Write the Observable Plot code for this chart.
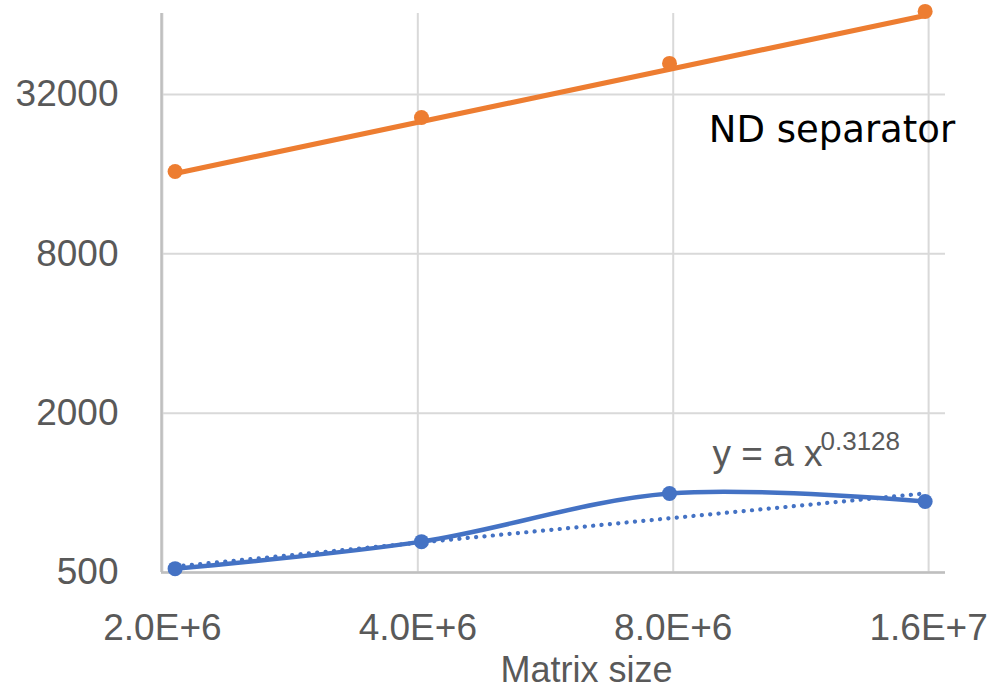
<!DOCTYPE html>
<html><head><meta charset="utf-8">
<script src="https://cdn.jsdelivr.net/npm/d3@7"></script>
<script src="https://cdn.jsdelivr.net/npm/@observablehq/plot@0.6"></script>
<style>body{margin:0;background:#fff} #chart{width:991px;height:690px}</style>
</head><body><div id="chart"></div>
<script>
// ---- data ----
const matrixSize   = [2.07e6, 4.04e6, 7.92e6, 1.585e7];
const ndSeparator  = [16370, 26190, 41910, 65880];
const otherSeries  = [517, 654, 994, 927];
const ndTrendX     = [2.07e6, 1.585e7];
const ndTrendY     = [16090, 63600];
const powerFitX    = [2.07e6, 1.585e7];
const powerFitY    = [527, 995];
const xTicks       = [2e6, 4e6, 8e6, 1.6e7];
const xTickLabels  = ["2.0E+6", "4.0E+6", "8.0E+6", "1.6E+7"];
const yTicks       = [500, 2000, 8000, 32000];
const yTickLabels  = ["500", "2000", "8000", "32000"];
const xDomain      = [1.995e6, 1.675e7];
const yDomain      = [500, 64700];
const seriesLabel  = "ND separator";
const fitLabel     = "y = a x";
const fitExponent  = "0.3128";
const xTitle       = "Matrix size";

const pts = (xs, ys) => xs.map((x, i) => ({x, y: ys[i]}));
const gray = "#595959";
const orange = "#ED7D31";
const blue = "#4472C4";

const chart = Plot.plot({
  width: 991, height: 690,
  marginLeft: 161, marginRight: 46, marginTop: 13, marginBottom: 118,
  style: {fontFamily: "'Liberation Sans', Arial, sans-serif", fontSize: "37px", color: gray, background: "#fff", overflow: "visible"},
  x: {type: "log", domain: xDomain, axis: null},
  y: {type: "log", domain: yDomain, axis: null},
  marks: [
    Plot.gridX(xTicks, {stroke: "#d9d9d9", strokeOpacity: 1, strokeWidth: 2}),
    Plot.gridY(yTicks, {stroke: "#d9d9d9", strokeOpacity: 1, strokeWidth: 2}),
    Plot.ruleX([xDomain[0]], {stroke: "#bfbfbf", strokeWidth: 2.5}),
    Plot.ruleY([yDomain[0]], {stroke: "#bfbfbf", strokeWidth: 2.5}),
    Plot.text(xTicks, {x: d => d, text: (d, i) => xTickLabels[i], frameAnchor: "bottom",
      lineAnchor: "top", dy: 41, fontSize: 37, fill: gray}),
    Plot.text(yTicks, {y: d => d, text: (d, i) => yTickLabels[i], frameAnchor: "left",
      textAnchor: "end", dx: -43, fontSize: 37, fill: gray}),
    Plot.line(pts(ndTrendX, ndTrendY), {x: "x", y: "y", stroke: orange, strokeWidth: 5}),
    Plot.line(pts(powerFitX, powerFitY), {x: "x", y: "y", stroke: blue, strokeWidth: 4.2,
      strokeDasharray: "0.1 8.3", strokeLinecap: "round"}),
    Plot.line(pts(matrixSize, otherSeries), {x: "x", y: "y", stroke: blue, strokeWidth: 4.5, curve: "cardinal"}),
    Plot.dot(pts(matrixSize, ndSeparator), {x: "x", y: "y", r: 7.5, fill: orange}),
    Plot.dot(pts(matrixSize, otherSeries), {x: "x", y: "y", r: 7.5, fill: blue}),
    Plot.text([seriesLabel], {x: () => 8.81e6, y: () => 23390, text: d => d, textAnchor: "start",
      fontFamily: "'DejaVu Sans', sans-serif", fontSize: 37, fill: "#000"}),
    Plot.text([fitLabel], {x: () => 8.9e6, y: () => 1401, text: d => d, textAnchor: "start",
      fontSize: 37, fill: gray}),
    Plot.text([fitExponent], {x: () => 8.9e6, y: () => 1401, text: d => d, textAnchor: "start",
      dx: 108, dy: -12, fontSize: 26, fill: gray}),
    Plot.text([xTitle], {frameAnchor: "bottom", lineAnchor: "top", dy: 84, dx: 33,
      text: d => d, fontSize: 36, fill: gray})
  ]
});
document.getElementById("chart").appendChild(chart);
</script>
</body></html>
